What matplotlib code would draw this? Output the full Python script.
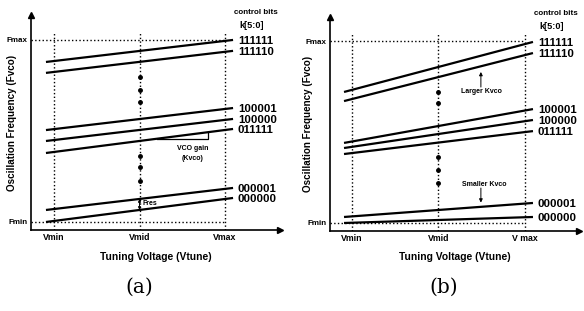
import matplotlib.pyplot as plt
import numpy as np

plt.rcParams['font.family'] = ['Liberation Sans', 'DejaVu Sans']

# control-bit codes, top to bottom
codes = ['111111', '111110', '100001', '100000', '011111', '000001', '000000']

# tuning voltage axis: Vmin=1, Vmid=2, Vmax=3 ; frequency axis: Fmin=0, Fmax=10
v_pos = [1, 2, 3]
v_labels_a = ['Vmin', 'Vmid', 'Vmax']
v_labels_b = ['Vmin', 'Vmid', 'V max']
f_pos = [0, 10]
f_labels = ['Fmin', 'Fmax']

# (a) constant Kvco
a_v_ends = [0.906, 3.094]
a_f_left = [8.79, 8.19, 5.05, 4.45, 3.79, 0.66, 0.00]
a_f_right = [10.00, 9.40, 6.26, 5.66, 5.11, 1.87, 1.32]
a_dots = [7.97, 7.25, 6.59, 3.63, 3.02, 2.25]

# (b) Kvco grows with the band
b_v_ends = [0.908, 3.092]
b_f_left = [7.20, 6.70, 4.40, 4.12, 3.79, 0.33, 0.00]
b_f_right = [9.95, 9.34, 6.26, 5.66, 5.05, 1.10, 0.33]
b_dots = [7.20, 6.59, 3.63, 2.91, 2.20]

W, H = 584, 311


def px_rect(x0, y0, x1, y1):
    """axes rect from pixel box (top-left origin)"""
    return [x0 / W, 1 - y1 / H, (x1 - x0) / W, (y1 - y0) / H]


def draw_panel(ax, v_ends, f_left, f_right, dots, xlim, ylim, v_labels, ylab_x):
    ax.set_xlim(xlim)
    ax.set_ylim(ylim)
    for side in ['top', 'right']:
        ax.spines[side].set_visible(False)
    for side in ['left', 'bottom']:
        ax.spines[side].set_linewidth(1.2)
    ax.plot(1, 0, '>', color='black', ms=4, transform=ax.transAxes, clip_on=False)
    ax.plot(0, 1, '^', color='black', ms=4, transform=ax.transAxes, clip_on=False)

    ax.set_xticks(v_pos, v_labels, fontsize=6.3, fontweight='bold')
    ax.set_yticks(f_pos, f_labels, fontsize=5.8, fontweight='bold')
    ax.tick_params(length=0, pad=2.5)
    ax.set_xlabel('Tuning Voltage (Vtune)', fontsize=7.4, fontweight='bold')
    ax.xaxis.set_label_coords(0.5, -0.10)
    ax.set_ylabel('Oscillation Frequency (Fvco)', fontsize=7.1, fontweight='bold')
    ax.yaxis.set_label_coords(ylab_x, 0.5)

    # guide lines
    ax.vlines(v_pos, ylim[0], 10.45, colors='black', linestyles=':', lw=1.0)
    ax.hlines(f_pos, xlim[0], v_pos[-1], colors='black', linestyles=':', lw=1.0)

    for fl, fr, code in zip(f_left, f_right, codes):
        ax.plot(v_ends, [fl, fr], color='black', lw=1.6, solid_capstyle='butt')
        ax.annotate(code, (v_ends[1], fr), xytext=(3.5, 0), textcoords='offset points',
                    ha='left', va='center_baseline', fontsize=8.2, fontweight='bold')

    ax.plot([2] * len(dots), dots, 'o', color='black', ms=2.5)

    ax.text(v_ends[1] + 0.27, 11.5, 'control bits', ha='center', va='center',
            fontsize=5.8, fontweight='bold')
    ax.text(v_ends[1] + 0.22, 10.8, 'k[5:0]', ha='center', va='center',
            fontsize=6.6, fontweight='bold')


fig = plt.figure(figsize=(W / 100, H / 100), dpi=100)
fig.patch.set_facecolor('white')

ax_a = fig.add_axes(px_rect(31, 15, 280, 230))
draw_panel(ax_a, a_v_ends, a_f_left, a_f_right, a_dots,
           (0.731, 3.643), (-0.44, 11.37), v_labels_a, -0.055)

ax_b = fig.add_axes(px_rect(330, 17, 579, 231))
draw_panel(ax_b, b_v_ends, b_f_left, b_f_right, b_dots,
           (0.746, 3.624), (-0.44, 11.32), v_labels_b, -0.07)

# (a) annotations: slope triangle on 011111 and band spacing Fres
k = 4
tri_v = [2.2, 2.8]
tri_f = np.interp(tri_v, a_v_ends, [a_f_left[k], a_f_right[k]])
ax_a.plot([tri_v[0], tri_v[1], tri_v[1]], [tri_f[0], tri_f[0], tri_f[1]],
          color='black', lw=0.9)
ax_a.text(2.62, 4.05, 'VCO gain', ha='center', va='center', fontsize=5, fontweight='bold')
ax_a.text(2.62, 3.50, '(Kvco)', ha='center', va='center', fontsize=5, fontweight='bold')

f_lo = np.interp(2, a_v_ends, [a_f_left[6], a_f_right[6]])
f_hi = np.interp(2, a_v_ends, [a_f_left[5], a_f_right[5]])
ax_a.annotate('', xy=(2, f_hi), xytext=(2, f_lo),
              arrowprops=dict(arrowstyle='<|-|>', color='black', lw=0.7,
                              mutation_scale=4, shrinkA=0, shrinkB=0))
ax_a.text(2.04, 1.02, 'Fres', ha='left', va='center', fontsize=5, fontweight='bold')

# (b) annotations
ax_b.annotate('', xy=(2.49, 8.30), xytext=(2.49, 7.47),
              arrowprops=dict(arrowstyle='-|>', color='black', lw=0.7,
                              mutation_scale=5, shrinkA=0, shrinkB=0))
ax_b.text(2.50, 7.22, 'Larger Kvco', ha='center', va='center', fontsize=5, fontweight='bold')
ax_b.annotate('', xy=(2.49, 1.12), xytext=(2.49, 1.92),
              arrowprops=dict(arrowstyle='-|>', color='black', lw=0.7,
                              mutation_scale=5, shrinkA=0, shrinkB=0))
ax_b.text(2.53, 2.14, 'Smaller Kvco', ha='center', va='center', fontsize=5, fontweight='bold')

fig.text(139 / W, 1 - 287 / H, '(a)', ha='center', va='center',
         fontsize=14.5, family='DejaVu Serif')
fig.text(444 / W, 1 - 287 / H, '(b)', ha='center', va='center',
         fontsize=14.5, family='DejaVu Serif')

fig.savefig('out.png', dpi=100, facecolor='white')
